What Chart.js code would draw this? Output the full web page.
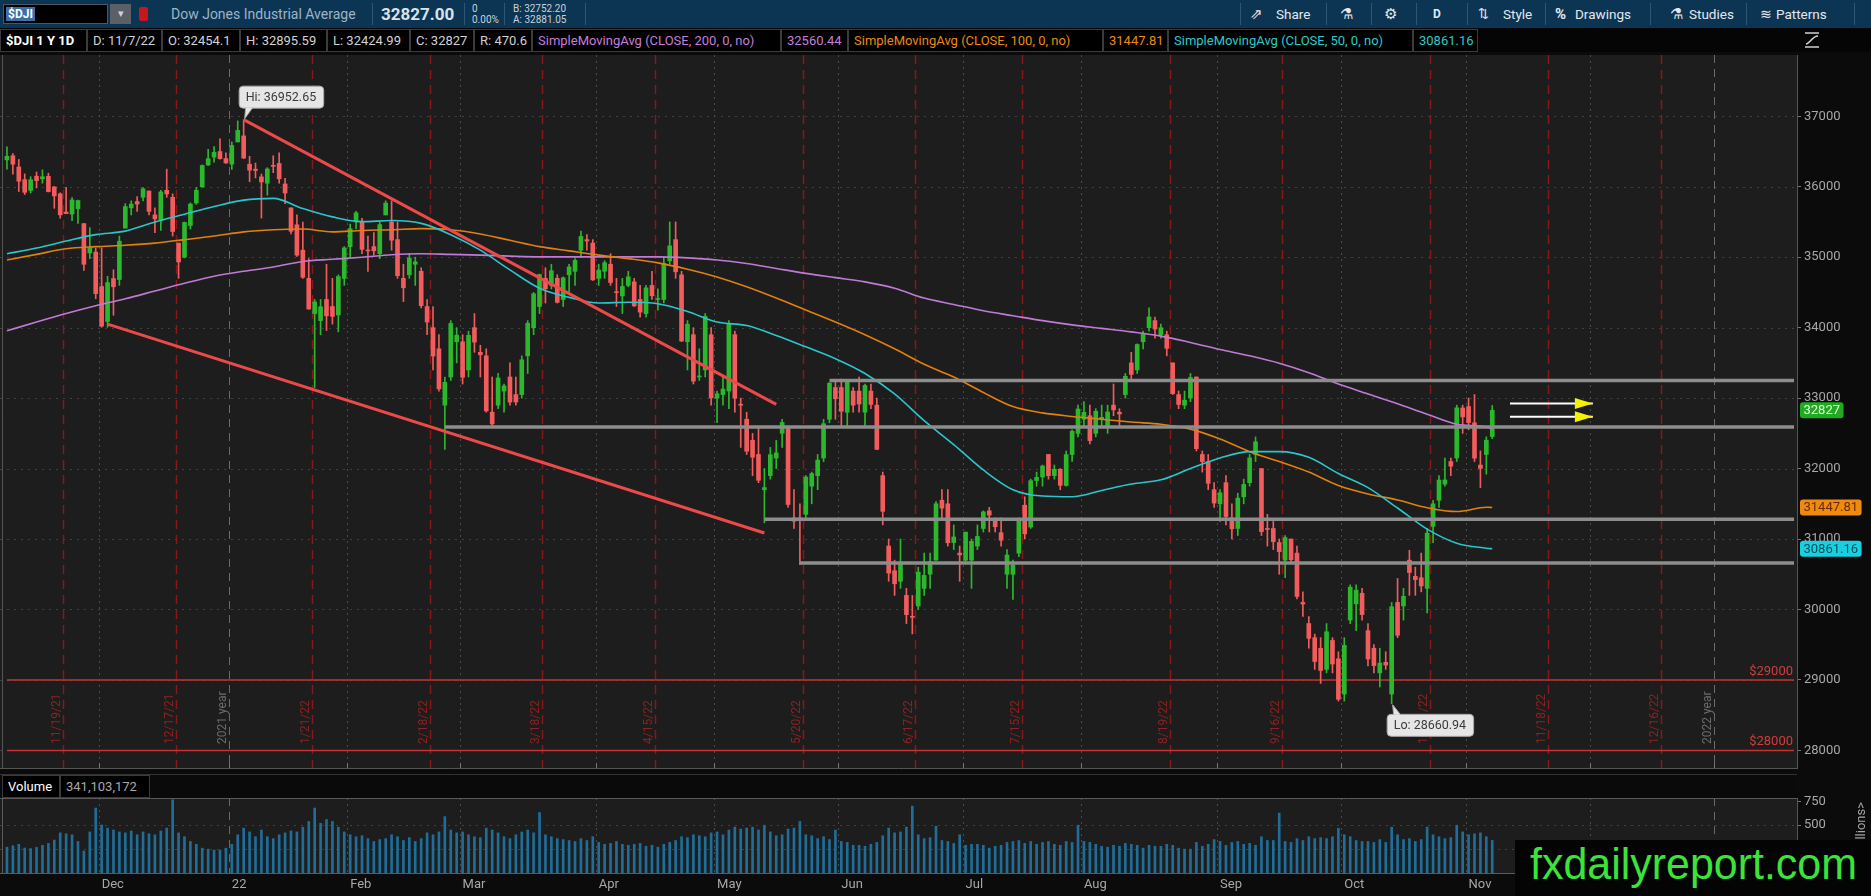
<!DOCTYPE html>
<html>
<head>
<meta charset="utf-8">
<title>$DJI 1 Y 1D</title>
<script src="https://cdn.jsdelivr.net/npm/chart.js@4.4.1/dist/chart.umd.min.js"></script>
<style>
  html, body { margin: 0; padding: 0; background: #0b0b0b; }
  body { width: 1871px; height: 896px; position: relative; overflow: hidden; font-family: Roboto, 'Open Sans', sans-serif; }
  #toolbar { position: absolute; left: 0; top: 0; width: 1871px; height: 28px; background: #0c3453; z-index: 3; }
  #toolbar span, #toolbar div { position: absolute; white-space: nowrap; }
  .tbt { top: 0; line-height: 28px; font-size: 13.5px; color: #e2e9ee; }
  .tsep { top: 3px; width: 1px; height: 22px; background: #2c5674; }
  #hdr { position: absolute; left: 0; top: 28px; width: 1871px; height: 24px; background: #050505; z-index: 3; }
  .hb { position: absolute; top: 1px; height: 23px; line-height: 21px; border: 1px solid #3b3b3b; background: #000; color: #d2d2d2; font-size: 13px; white-space: nowrap; padding-left: 5px; box-sizing: border-box; overflow: hidden; }
  #priceBox { position: absolute; left: 0; top: 52px; width: 1871px; height: 720px; z-index: 1; }
  #volHdr { position: absolute; left: 0; top: 774px; width: 1797px; height: 24px; background: #0a0a0a; border-top: 1px solid #333; box-sizing: border-box; z-index: 3; }
  #volBox { position: absolute; left: 0; top: 790px; width: 1871px; height: 106px; z-index: 2; }
  #wm { position: absolute; left: 1515px; top: 840px; width: 356px; height: 56px; background: #040404; z-index: 5; overflow: hidden; }
  #wmText { position: absolute; left: 15px; top: -4px; font-family: 'Liberation Sans Narrow', 'Liberation Sans', Arial, sans-serif; font-size: 44px; line-height: 56px; color: #3be33b; transform-origin: 0 0; white-space: nowrap; }
</style>
</head>
<body>
<div id="toolbar">
  <div style="left:3px;top:4px;width:105px;height:20px;background:#000;border:1px solid #4d5560;box-sizing:border-box;"></div>
  <span style="left:6px;top:7px;height:14px;line-height:14px;padding:0 2px;background:#3a6fa8;color:#fff;font-size:12px;font-weight:bold;">$DJI</span>
  <div style="left:110px;top:4px;width:21px;height:20px;background:#5b6066;color:#cfd3d6;font-size:11px;line-height:20px;text-align:center;">&#9662;</div>
  <div style="left:139px;top:7px;width:9px;height:14px;background:#c8161d;border-radius:2px;"></div>
  <span class="tbt" style="left:171px;color:#9db5c7;font-size:14px;">Dow Jones Industrial Average</span>
  <div class="tsep" style="left:372px"></div>
  <span class="tbt" style="left:381px;font-size:17px;font-weight:bold;color:#d9e3ea;">32827.00</span>
  <div class="tsep" style="left:464px"></div>
  <span style="left:472px;top:3px;font-size:10px;line-height:11px;color:#c9d3da;">0</span>
  <span style="left:472px;top:14px;font-size:10px;line-height:11px;color:#c9d3da;">0.00%</span>
  <div class="tsep" style="left:504px"></div>
  <span style="left:513px;top:3px;font-size:10px;line-height:11px;color:#c9d3da;">B: 32752.20</span>
  <span style="left:513px;top:14px;font-size:10px;line-height:11px;color:#c9d3da;">A: 32881.05</span>
  <div class="tsep" style="left:585px"></div>

  <div class="tsep" style="left:1240px"></div>
  <span class="tbt" style="left:1250px;font-size:15px;">&#8663;</span>
  <span class="tbt" style="left:1276px">Share</span>
  <div class="tsep" style="left:1326px"></div>
  <span class="tbt" style="left:1340px;font-size:15px;">&#9879;</span>
  <div class="tsep" style="left:1371px"></div>
  <span class="tbt" style="left:1384px;font-size:15px;">&#9881;</span>
  <div class="tsep" style="left:1416px"></div>
  <span class="tbt" style="left:1433px;font-weight:bold;font-size:12px;">D</span>
  <div class="tsep" style="left:1467px"></div>
  <span class="tbt" style="left:1478px;font-size:13px;">&#8645;</span>
  <span class="tbt" style="left:1503px">Style</span>
  <div class="tsep" style="left:1545px"></div>
  <span class="tbt" style="left:1555px;font-weight:bold;font-size:15px;">%</span>
  <span class="tbt" style="left:1575px">Drawings</span>
  <div class="tsep" style="left:1650px"></div>
  <span class="tbt" style="left:1670px;font-size:15px;">&#9879;</span>
  <span class="tbt" style="left:1689px">Studies</span>
  <div class="tsep" style="left:1746px"></div>
  <span class="tbt" style="left:1760px;font-size:14px;">&#8779;</span>
  <span class="tbt" style="left:1776px">Patterns</span>
  <div class="tsep" style="left:1854px"></div>
</div>
<div id="hdr">
  <svg style="position:absolute;left:1803px;top:3px" width="18" height="18" viewBox="0 0 18 18">
    <path d="M2 2H16M2 16H16M3 13C7 13 9 5 15 5" stroke="#d0d0d0" fill="none" stroke-width="1.5"/>
  </svg>
</div>
<div id="priceBox"><canvas id="priceCanvas"></canvas></div>
<div id="volHdr">
  <div class="hb" style="left:2px;top:0;width:58px;color:#fff;">Volume</div>
  <div class="hb" id="volLast" style="left:60px;top:0;width:90px;color:#a8a8a8;"></div>
</div>
<div id="volBox"><canvas id="volCanvas"></canvas></div>
<div id="wm"><span id="wmText">fxdailyreport.com</span></div>

<script>
// ---- calendar ----
const firstDay = '2021-11-08';
const lastDay = '2023-01-23';
const marketHolidays = ['2021-11-25', '2021-12-24', '2022-01-17', '2022-02-21', '2022-04-15', '2022-05-30',
  '2022-06-20', '2022-07-04', '2022-09-05', '2022-11-24', '2022-12-26', '2023-01-02', '2023-01-16'];
const expiryDates = ['2021-11-19', '2021-12-17', '2022-01-21', '2022-02-18', '2022-03-18', '2022-04-15', '2022-05-20',
  '2022-06-17', '2022-07-15', '2022-08-19', '2022-09-16', '2022-10-21', '2022-11-18', '2022-12-16'];
const yearEnds = ['2021-12-31', '2022-12-30'];
const yearLabels = ['2021 year', '2022 year'];
const monthNames = ['22', 'Feb', 'Mar', 'Apr', 'May', 'Jun', 'Jul', 'Aug', 'Sep', 'Oct', 'Nov', 'Dec'];

// ---- daily candles, $DJI (Nov 8 2021 .. Nov 7 2022) ----
const opens = [
  36381, 36440, 36280, 36101, 35947, 36150, 36113, 36149, 35998, 35900, 35641, 35611, 35689, 35477, 35060, 35072,
  34584, 34088, 34697, 34683, 35413, 35700, 35790, 35850, 35940, 35600, 35530, 35950, 35850, 35200, 35000, 35450, 35770, 36000, 36310, 36420, 36500, 36400,
  36321, 36636, 36722, 36320, 36249, 36140, 36050, 36300, 36330, 36040, 35700, 35460, 35100, 34700, 34200, 34100, 34400, 34300, 34180, 34700,
  35150, 35500, 35500, 35100, 35150, 35050, 35600, 35500, 35250, 34700, 34750, 34900, 34800, 34300, 34000, 33700, 32900, 33300, 33800,
  33800, 33400, 34000, 33650, 33600, 32800, 32900, 33100, 33300, 33050, 33050, 33600, 34000, 34300, 34700, 34600, 34700, 34400, 34750, 34800, 35100, 35250, 35200,
  34700, 34800, 34900, 34500, 34450, 34600, 34650, 34400, 34200, 34600, 34400, 34400, 34950, 35250, 34750, 33800, 33900, 33300, 33400, 33900,
  33000, 33050, 33100, 33900, 32900, 32700, 32400, 32200, 31700, 31900, 32150, 32500, 32600, 31300, 31300, 31350, 31750, 31900, 32150, 32700, 33150,
  33150, 32800, 33100, 33100, 32800, 33100, 32900, 31900, 30900, 30550, 30400, 30200, 29900, 30050, 30300, 30500, 30700, 31550, 31500, 30950, 30800,
  30700, 30700, 30900, 31150, 31400, 31280, 31090, 30500, 30500, 30800, 31480, 31170, 31830, 31880, 32200, 31900, 31990, 31760, 32200, 32500,
  32700, 32750, 32500, 32700, 32600, 32900, 32800, 33050, 33500, 33400, 33800, 34000, 34100, 33900, 33900, 33500, 33050, 32900, 33000, 33300, 32200, 32100, 31700,
  31500, 31800, 31300, 31150, 31600, 31800, 32200, 32000, 31150, 31150, 30950, 30700, 31000, 30800, 30100, 29800, 29600, 29450, 29150, 29560, 29300,
  28800, 29850, 30080, 30230, 29700, 29450, 29100, 29250, 28800, 30100, 30050, 30700, 30470, 30450, 30300, 31180, 31550, 31780, 32100, 32150, 32860,
  32880, 32650, 32050, 32200, 32454.1
];
const highs = [
  36565, 36471, 36387, 36183, 36143, 36209, 36240, 36193, 36003, 35914, 35991, 35846, 35811, 35477, 35420, 35129,
  35132, 34728, 34822, 35300, 35760, 35800, 35860, 35987, 35940, 35700, 35950, 36250, 35900, 35200, 35500, 35770, 35990, 36310, 36530, 36570, 36680, 36480,
  36636, 36934, 36952.65, 36432, 36336, 36180, 36270, 36440, 36480, 36120, 35700, 35600, 35500, 34980, 34400, 34400, 34900, 34700, 34750, 35150,
  35470, 35650, 35550, 35300, 35350, 35500, 35800, 35800, 35500, 34900, 35050, 35000, 34850, 34400, 34300, 33900, 33300, 34100, 34000,
  33900, 33950, 34200, 33750, 33700, 33300, 33350, 33200, 33500, 33300, 33600, 34100, 34500, 34760, 34850, 34900, 34750, 34720, 34900, 34980, 35370, 35320, 35250,
  34900, 34950, 35050, 34700, 34700, 34800, 34700, 34600, 34600, 34800, 34550, 35000, 35500, 35500, 34800, 34100, 34000, 33700, 34200, 34000,
  33100, 33300, 34100, 33950, 33000, 32800, 32500, 32600, 32000, 32300, 32400, 32700, 32600, 31700, 31500, 31900, 31950, 32200, 32700, 33220, 33250,
  33270, 33250, 33150, 33300, 33200, 33200, 33000, 31950, 31000, 30700, 31000, 30300, 30200, 30600, 30800, 30800, 31530, 31700, 31700, 31200, 30900,
  31100, 31000, 31200, 31400, 31450, 31300, 31300, 30850, 30700, 31300, 31600, 31850, 31950, 32050, 32200, 32050, 32000, 32250, 32550, 32900,
  32950, 32900, 32850, 32900, 32900, 33200, 32850, 33350, 33650, 33770, 33950, 34281, 34150, 34050, 33950, 33500, 33100, 33100, 33350, 33300, 32250, 32200, 31800,
  31700, 31900, 31500, 31650, 31850, 32200, 32450, 32000, 31350, 31250, 31000, 31050, 31000, 30900, 30250, 29900, 29650, 29600, 29800, 29600, 29400,
  29600, 30350, 30350, 30300, 29800, 29500, 29450, 29400, 30100, 30440, 30300, 30840, 30600, 30800, 31150, 31550, 31900, 32150, 32150, 32900, 32900,
  33000, 33050, 32250, 32450, 32895.59
];
const lows = [
  36249, 36180, 35932, 35890, 35911, 35984, 36050, 35925, 35694, 35553, 35619, 35517, 35478, 34814, 34979, 34411,
  34006, 34006, 34176, 34600, 35413, 35600, 35650, 35800, 35600, 35350, 35380, 35850, 35300, 34700, 34990, 35400, 35750, 35990, 36300, 36350, 36390, 36330,
  36246, 36636, 36400, 36071, 36125, 35555, 35880, 36200, 36050, 35760, 35330, 35010, 34700, 34260, 33150, 33900, 33960, 34050, 33940, 34600,
  35000, 35400, 35050, 34800, 35030, 34980, 35600, 35100, 34700, 34370, 34700, 34600, 34280, 33900, 33400, 33100, 32272, 33250, 33500,
  33200, 33300, 33650, 33300, 32800, 32600, 32850, 32800, 32900, 32900, 33000, 33350, 33900, 34200, 34350, 34550, 34350, 34300, 34500, 34600, 35000, 35100, 34670,
  34600, 34700, 34600, 34300, 34200, 34580, 34300, 34150, 34150, 34400, 34250, 34350, 34900, 34700, 33800, 33400, 33200, 33250, 33300, 32900,
  32650, 32900, 32850, 32800, 32300, 32200, 31900, 31800, 31230, 31850, 32000, 32300, 31450, 31150, 30636, 31300, 31500, 31700, 32100, 32650, 32700,
  32600, 32600, 32800, 32800, 32600, 32850, 32270, 31200, 30400, 30200, 30300, 29800, 29653, 30000, 30200, 30300, 30700, 31300, 30900, 30850, 30400,
  30650, 30300, 30850, 31100, 31100, 31100, 30900, 30300, 30143, 30750, 31000, 31150, 31750, 31750, 31850, 31850, 31700, 31750, 32100, 32450,
  32600, 32350, 32450, 32600, 32500, 32750, 32600, 33000, 33250, 33350, 33700, 33950, 33850, 33850, 33600, 33050, 32850, 32850, 32950, 32250, 31950, 31700, 31450,
  31250, 31200, 31000, 31050, 31500, 31750, 32100, 31050, 30900, 30850, 30500, 30450, 30650, 30150, 29900, 29450, 29150, 28950, 29100, 29100, 28700,
  28700, 29800, 29700, 29850, 29200, 29100, 28900, 29150, 28660.94, 29600, 29850, 30200, 30200, 30250, 29950, 30950, 31450, 31750, 31900, 32100, 32500,
  32550, 32100, 31730, 31920, 32424.99
];
const closes = [
  36432, 36320, 36079, 35921, 36100, 36087, 36142, 35931, 35870, 35601, 35619, 35813, 35804, 34899, 35135, 34483,
  34022, 34640, 34580, 35227, 35719, 35754, 35754, 35971, 35650, 35544, 35927, 35898, 35365, 34932, 35493, 35754, 35950, 36302, 36398, 36488, 36398, 36338,
  36585, 36800, 36407, 36236, 36231, 36068, 36252, 36290, 36113, 35911, 35368, 35029, 34715, 34265, 34365, 34297, 34168, 34160, 34725, 35132,
  35405, 35629, 35111, 35089, 35091, 35463, 35768, 35241, 34738, 34566, 34988, 34934, 34312, 34079, 33597, 33131, 33224, 34059, 33893,
  33295, 33891, 33795, 33615, 32818, 32633, 33286, 33174, 32944, 32945, 33544, 34063, 34481, 34754, 34553, 34808, 34359, 34708, 34862, 34955, 35294, 35229, 34678,
  34818, 34922, 34641, 34497, 34584, 34721, 34309, 34221, 34565, 34452, 34412, 34912, 35161, 34793, 33811, 34049, 33241, 33302, 34160, 33002,
  33062, 33129, 34061, 32998, 32899, 32246, 32161, 31834, 31730, 32197, 32223, 32655, 31490, 31253, 31262, 31880, 31929, 32120, 32637, 33213, 32990,
  32813, 33248, 32900, 32916, 33180, 32910, 32273, 31393, 30517, 30365, 30669, 29927, 29889, 30530, 30484, 30677, 31501, 31438, 30947, 31029, 30775,
  31097, 30968, 31037, 31385, 31338, 31174, 30982, 30773, 30630, 31289, 31073, 31828, 31875, 32036, 31899, 31990, 31762, 32198, 32530, 32845,
  32798, 32397, 32813, 32727, 32803, 32833, 32775, 33310, 33337, 33761, 33913, 34152, 33981, 33999, 33707, 33064, 32910, 32970, 33292, 32283, 32099, 31791, 31510,
  31656, 31319, 31146, 31581, 31775, 32152, 32381, 31105, 31135, 30962, 30822, 31020, 30707, 30184, 30077, 29590, 29261, 29135, 29684, 29226, 28726,
  29490, 30317, 30274, 29927, 29297, 29203, 29240, 29211, 30039, 29635, 30186, 30524, 30424, 30334, 31083, 31500, 31837, 31839, 32034, 32862, 32733,
  32653, 32148, 32002, 32403, 32827
];
// volume, millions
const volumes = [
  270, 285, 300, 262, 255, 268, 290, 310, 345, 420, 410, 400, 330, 230, 430, 680,
  503, 470, 450, 430, 420, 440, 400, 430, 410, 400, 440, 470, 767, 420, 380, 330, 300, 260, 250, 240, 240, 260,
  300, 400, 470, 430, 380, 450, 380, 360, 400, 420, 440, 430, 480, 540, 680, 520, 560, 540, 480, 430,
  400, 380, 390, 360, 330, 350, 360, 400, 380, 340, 370, 330, 360, 420, 400, 430, 590, 450, 420,
  430, 400, 380, 370, 470, 450, 420, 380, 360, 400, 430, 450, 420, 633, 400, 380, 360, 350, 340, 330, 360, 340, 380,
  320, 300, 310, 330, 300, 290, 300, 310, 280, 290, 270, 300, 320, 340, 380, 370, 400, 390, 380, 420,
  430, 400, 450, 480, 460, 470, 480, 450, 500, 430, 390, 400, 460, 470, 540, 400, 390, 360, 380, 350, 450,
  330, 320, 290, 290, 280, 300, 320, 390, 470, 420, 430, 480, 700, 400, 360, 370, 490, 340, 330, 310, 400,
  290, 300, 300, 290, 260, 280, 290, 320, 330, 340, 310, 330, 300, 320, 330, 300, 290, 330, 320, 500,
  330, 320, 300, 280, 270, 290, 280, 310, 300, 290, 260, 290, 280, 280, 300, 290, 260, 250, 250, 320, 280, 300, 350,
  330, 290, 320, 330, 300, 310, 290, 380, 340, 340, 627, 330, 320, 360, 340, 380, 360, 370, 360, 380, 468,
  400, 380, 340, 330, 330, 320, 350, 320, 480, 400, 350, 360, 330, 350, 480, 400, 380, 360, 370, 500, 430,
  400, 410, 420, 380, 341.103172
];

// ---- moving averages, read every 5th session (last point = last session) ----
const smaStep = 5;
const sma200 = [33955, 34080, 34200, 34310, 34410, 34520, 34630, 34730, 34800, 34860, 34940, 34970, 35000, 35035, 35050, 35040,
  35030, 35015, 35005, 35005, 35005, 35005, 35005, 34990, 34960, 34910, 34840, 34770, 34710, 34650, 34560, 34420, 34330, 34240,
  34170, 34100, 34040, 33990, 33940, 33880, 33790, 33690, 33600, 33495, 33360, 33200, 33060, 32920, 32770, 32630, 32590, 32560.44];
const sma100 = [34960, 35040, 35120, 35150, 35170, 35200, 35250, 35300, 35360, 35390, 35400, 35360, 35380, 35390, 35405, 35390,
  35330, 35240, 35150, 35090, 35030, 34980, 34920, 34830, 34720, 34580, 34420, 34250, 34080, 33900, 33700, 33480, 33300, 33080,
  32880, 32790, 32740, 32700, 32660, 32630, 32560, 32420, 32240, 32100, 31950, 31760, 31640, 31555, 31445, 31390, 31450, 31447.81];
const sma50 = [35050, 35130, 35230, 35320, 35370, 35500, 35610, 35720, 35810, 35835, 35690, 35572, 35505, 35520, 35480, 35320,
  35100, 34820, 34560, 34430, 34350, 34360, 34340, 34230, 34080, 34030, 33890, 33728, 33560, 33350, 33060, 32680, 32340, 31980,
  31700, 31610, 31600, 31690, 31780, 31840, 32000, 32150, 32240, 32240, 32160, 31930, 31730, 31440, 31140, 30940, 30870, 30861.16];

// ---- drawings ----
const priceTicks = [28000, 29000, 30000, 31000, 32000, 33000, 34000, 35000, 36000, 37000];
const alertLevels = [29000, 28000];
const grayLevels = [33250, 32590, 31280, 30660];
const grayStarts = ['2022-05-27', '2022-02-24', '2022-05-12', '2022-05-20'];
const upperChannel = [['2022-01-05', 36952.65], ['2022-05-16', 32911]];
const lowerChannel = [['2021-12-02', 34050], ['2022-05-12', 31086]];
const arrowLevels = [32925, 32734];
const arrowSpan = ['2022-11-10', '2022-12-01'];

// ---- helpers ----
function tradingDays(from, to) {
  const out = [];
  const d = new Date(from + 'T12:00:00Z');
  const end = new Date(to + 'T12:00:00Z');
  while (d <= end) {
    const iso = d.toISOString().slice(0, 10);
    const wd = d.getUTCDay();
    if (wd !== 0 && wd !== 6 && !marketHolidays.includes(iso)) out.push(iso);
    d.setUTCDate(d.getUTCDate() + 1);
  }
  return out;
}
const isoDays = tradingDays(firstDay, lastDay);
const shortDate = iso => { const [y, m, d] = iso.split('-'); return `${+m}/${+d}/${y.slice(2)}`; };
const dayLabels = isoDays.map(shortDate);
const idxOn = iso => { let k = 0; isoDays.forEach((d, i) => { if (d <= iso) k = i; }); return k; };
const labelOn = iso => dayLabels[idxOn(iso)];
const lastLabel = dayLabels[dayLabels.length - 1];
const last = closes.length - 1;

const monthStarts = [];
isoDays.forEach((d, i) => { if (i > 0 && d.slice(5, 7) !== isoDays[i - 1].slice(5, 7)) monthStarts.push(i); });
const monthTickText = {};
monthStarts.forEach(i => { monthTickText[i] = monthNames[(+isoDays[i].slice(5, 7) + 11) % 12]; });

const upColor = '#2cb82c';
const downColor = '#f25c5c';
const candleColors = closes.map((c, i) => (c >= opens[i] ? upColor : downColor));
const bodies = closes.map((c, i) => [opens[i], c]);
const wicks = closes.map((c, i) => [lows[i], highs[i]]);

function smaSeries(values) {
  const data = dayLabels.map(() => null);
  values.forEach((v, k) => { data[Math.min(k * smaStep, last)] = v; });
  return data;
}
const seg = (a, b) => [{ x: labelOn(a[0]), y: a[1] }, { x: labelOn(b[0]), y: b[1] }];
const flat = (startIso, v, endIso) => [{ x: labelOn(startIso), y: v }, { x: endIso ? labelOn(endIso) : lastLabel, y: v }];

// ---- header texts from data ----
const fmt2 = v => v.toFixed(2);
const hdrItems = [
  ['$DJI 1 Y 1D', 0, 87, '#ffffff', true],
  ['D: ' + shortDate(isoDays[last]), 87, 75, '#d2d2d2'],
  ['O: ' + opens[last], 162, 78, '#d2d2d2'],
  ['H: ' + highs[last], 240, 87, '#d2d2d2'],
  ['L: ' + lows[last], 327, 83, '#d2d2d2'],
  ['C: ' + closes[last], 410, 64, '#d2d2d2'],
  ['R: ' + (highs[last] - lows[last]).toFixed(1), 474, 58, '#d2d2d2'],
  ['SimpleMovingAvg (CLOSE, 200, 0, no)', 532, 249, '#c57ed8'],
  [fmt2(sma200[sma200.length - 1]), 781, 67, '#c57ed8'],
  ['SimpleMovingAvg (CLOSE, 100, 0, no)', 848, 255, '#ea8a12'],
  [fmt2(sma100[sma100.length - 1]), 1103, 65, '#ea8a12'],
  ['SimpleMovingAvg (CLOSE, 50, 0, no)', 1168, 245, '#2ccaca'],
  [fmt2(sma50[sma50.length - 1]), 1413, 65, '#2ccaca']
];
const hdr = document.getElementById('hdr');
hdrItems.forEach(([t, l, w, c, b]) => {
  const el = document.createElement('div');
  el.className = 'hb';
  el.textContent = t;
  el.style.left = l + 'px';
  el.style.width = w + 'px';
  el.style.color = c;
  if (b) el.style.fontWeight = 'bold';
  hdr.appendChild(el);
});
document.getElementById('volLast').textContent = Math.round(volumes[last] * 1e6).toLocaleString('en-US');

// ---- chart ----
Chart.defaults.font.family = 'Roboto, "Open Sans", sans-serif';
Chart.defaults.animation = false;

function drawRound(ctx, x, y, w, h, r) {
  ctx.beginPath();
  ctx.moveTo(x + r, y);
  ctx.arcTo(x + w, y, x + w, y + h, r);
  ctx.arcTo(x + w, y + h, x, y + h, r);
  ctx.arcTo(x, y + h, x, y, r);
  ctx.arcTo(x, y, x + w, y, r);
  ctx.closePath();
}
function vline(ctx, px, y1, y2) { ctx.beginPath(); ctx.moveTo(px, y1); ctx.lineTo(px, y2); ctx.stroke(); }
function hline(ctx, py, x1, x2) { ctx.beginPath(); ctx.moveTo(x1, py); ctx.lineTo(x2, py); ctx.stroke(); }
const boundary = (xs, i, side) => {
  const w = xs.getPixelForValue(1) - xs.getPixelForValue(0);
  return Math.round(xs.getPixelForValue(i) + side * w / 2) + 0.5;
};
const yearIdx = yearEnds.map(idxOn);
const janStarts = monthStarts.filter(i => isoDays[i].slice(5, 7) === '01');

function drawVerticals(ctx, a, xs) {
  ctx.lineWidth = 1;
  ctx.strokeStyle = '#4a4a4a';
  ctx.setLineDash([2, 4]);
  monthStarts.filter(i => !janStarts.includes(i)).forEach(i => vline(ctx, boundary(xs, i, -1), a.top, a.bottom));
  ctx.strokeStyle = '#6a6a6a';
  ctx.setLineDash([8, 6]);
  yearIdx.forEach(i => vline(ctx, boundary(xs, i, 1), a.top, a.bottom));
}

const pricePlugin = {
  id: 'priceOverlay',
  beforeDraw(chart) {
    const { ctx, chartArea: a, width } = chart;
    ctx.save();
    ctx.fillStyle = '#0b0b0b';
    ctx.fillRect(0, 0, width, chart.height);
    ctx.fillStyle = '#1d1d1d';
    ctx.fillRect(0, a.top, a.right, a.bottom - a.top);
    ctx.restore();
  },
  beforeDatasetsDraw(chart) {
    const { ctx, chartArea: a, scales: { x, y } } = chart;
    ctx.save();
    ctx.lineWidth = 1;
    ctx.strokeStyle = '#404040';
    ctx.setLineDash([2, 5]);
    priceTicks.forEach(v => hline(ctx, Math.round(y.getPixelForValue(v)) + 0.5, 0, a.right));
    drawVerticals(ctx, a, x);
    // option expiration lines
    ctx.strokeStyle = '#861a1a';
    ctx.lineWidth = 1.5;
    ctx.setLineDash([9, 6]);
    expiryDates.forEach(d => vline(ctx, boundary(x, idxOn(d), 1), a.top, a.bottom));
    ctx.setLineDash([]);
    // small ticks at panel bottom
    ctx.strokeStyle = '#777';
    ctx.lineWidth = 1;
    monthStarts.forEach(i => vline(ctx, boundary(x, i, -1), a.bottom - 5, a.bottom));
    // rotated labels
    ctx.font = '12px Roboto, sans-serif';
    ctx.textAlign = 'left';
    ctx.textBaseline = 'middle';
    const labelAt = (px, text, color) => {
      ctx.save();
      ctx.translate(px - 7, a.bottom - 24);
      ctx.rotate(-Math.PI / 2);
      ctx.fillStyle = color;
      ctx.fillText(text, 0, 0);
      ctx.restore();
    };
    expiryDates.forEach(d => labelAt(boundary(x, idxOn(d), 1), shortDate(d), '#8e2222'));
    yearIdx.forEach((i, k) => labelAt(boundary(x, i, 1), yearLabels[k], '#6c6c6c'));
    // alert labels
    ctx.font = '13px Roboto, sans-serif';
    ctx.textAlign = 'right';
    ctx.textBaseline = 'alphabetic';
    ctx.fillStyle = '#d23c3c';
    alertLevels.forEach(v => ctx.fillText('$' + v, a.right - 4, y.getPixelForValue(v) - 5));
    ctx.restore();
  },
  afterDatasetsDraw(chart) {
    const { ctx, chartArea: a, scales: { x, y } } = chart;
    ctx.save();
    // arrow heads
    ctx.fillStyle = '#f4f200';
    arrowLevels.forEach(v => {
      const tx = x.getPixelForValue(idxOn(arrowSpan[1]));
      const ty = y.getPixelForValue(v);
      ctx.beginPath();
      ctx.moveTo(tx, ty);
      ctx.lineTo(tx - 18, ty - 5.5);
      ctx.lineTo(tx - 18, ty + 5.5);
      ctx.closePath();
      ctx.fill();
    });
    // hi / lo bubbles
    const hiIdx = highs.indexOf(Math.max(...highs));
    const loIdx = lows.indexOf(Math.min(...lows));
    ctx.font = '12.5px Roboto, sans-serif';
    ctx.textBaseline = 'middle';
    ctx.textAlign = 'left';
    const bubble = (px, py, text, above) => {
      const w = ctx.measureText(text).width + 14;
      const h = 22;
      const bx = px - 5;
      const by = above ? py - 12 - h : py + 10;
      ctx.fillStyle = '#e6e6e6';
      ctx.strokeStyle = '#a9a9a9';
      ctx.lineWidth = 1;
      drawRound(ctx, bx + 0.5, by + 0.5, w, h, 4);
      ctx.fill();
      ctx.stroke();
      ctx.beginPath();
      const edge = above ? by + h : by + 1;
      ctx.moveTo(bx + 7, edge);
      ctx.lineTo(px + 1, above ? py - 1 : py + 1);
      ctx.lineTo(bx + 14, edge);
      ctx.closePath();
      ctx.fill();
      ctx.beginPath();
      ctx.moveTo(bx + 7, edge);
      ctx.lineTo(px + 1, above ? py - 1 : py + 1);
      ctx.lineTo(bx + 14, edge);
      ctx.stroke();
      ctx.fillStyle = '#3b3b3b';
      ctx.fillText(text, bx + 7, by + h / 2 + 1);
    };
    bubble(x.getPixelForValue(hiIdx), y.getPixelForValue(highs[hiIdx]), 'Hi: ' + highs[hiIdx].toFixed(2), true);
    bubble(x.getPixelForValue(loIdx), y.getPixelForValue(lows[loIdx]), 'Lo: ' + lows[loIdx].toFixed(2), false);
    // panel border
    ctx.strokeStyle = '#555';
    hline(ctx, Math.round(a.bottom) + 0.5, 0, a.right);
    vline(ctx, 2.5, a.top, a.bottom);
    ctx.restore();
  },
  afterDraw(chart) {
    const { ctx, chartArea: a, scales: { y } } = chart;
    ctx.save();
    ctx.font = '13px Roboto, sans-serif';
    ctx.textBaseline = 'middle';
    ctx.textAlign = 'left';
    const tags = [
      [closes[last], String(closes[last]), '#1faa1f', '#e4ffe4'],
      [sma100[sma100.length - 1], fmt2(sma100[sma100.length - 1]), '#f08a0c', '#6a2c00'],
      [sma50[sma50.length - 1], fmt2(sma50[sma50.length - 1]), '#19cfe0', '#00525c']
    ];
    tags.forEach(([v, t, bg, fg]) => {
      const py = y.getPixelForValue(v);
      const w = ctx.measureText(t).width + 7;
      ctx.fillStyle = bg;
      drawRound(ctx, a.right + 3, py - 8, w, 16, 3);
      ctx.fill();
      ctx.fillStyle = fg;
      ctx.fillText(t, a.right + 6.5, py + 0.5);
    });
    ctx.restore();
  }
};

const lineDefaults = { type: 'line', pointRadius: 0, fill: false, spanGaps: true };
const priceChart = new Chart(document.getElementById('priceCanvas'), {
  type: 'bar',
  data: {
    labels: dayLabels,
    datasets: [
      ...arrowLevels.map(v => ({ ...lineDefaults, data: flat(arrowSpan[0], v, arrowSpan[1]), borderColor: '#ffffff', borderWidth: 2 })),
      ...grayLevels.map((v, k) => ({ ...lineDefaults, data: flat(grayStarts[k], v), borderColor: '#8d8d8d', borderWidth: 3.5 })),
      { ...lineDefaults, data: seg(...upperChannel), borderColor: '#ec4a4a', borderWidth: 3 },
      { ...lineDefaults, data: seg(...lowerChannel), borderColor: '#ec4a4a', borderWidth: 3 },
      { ...lineDefaults, data: smaSeries(sma50), borderColor: '#2ac6cc', borderWidth: 1.6, cubicInterpolationMode: 'monotone' },
      { ...lineDefaults, data: smaSeries(sma100), borderColor: '#e0800e', borderWidth: 1.6, cubicInterpolationMode: 'monotone' },
      { ...lineDefaults, data: smaSeries(sma200), borderColor: '#c07ad6', borderWidth: 1.6, cubicInterpolationMode: 'monotone' },
      { type: 'bar', data: bodies, backgroundColor: candleColors, barThickness: 4, grouped: false, minBarLength: 1 },
      { type: 'bar', data: wicks, backgroundColor: candleColors, barThickness: 1, grouped: false },
      ...alertLevels.map(v => ({ ...lineDefaults, data: flat(isoDays[0], v), borderColor: '#c83232', borderWidth: 1.5 }))
    ]
  },
  options: {
    responsive: true,
    maintainAspectRatio: false,
    layout: { padding: { left: 4, top: 3, bottom: 4, right: 0 } },
    plugins: { legend: { display: false }, tooltip: { enabled: false } },
    scales: {
      x: { display: false, offset: true },
      y: {
        position: 'right',
        min: 27750,
        max: 37870,
        afterBuildTicks: s => { s.ticks = priceTicks.map(v => ({ value: v })); },
        afterFit: s => { s.width = 74; s.paddingTop = 0; s.paddingBottom = 0; },
        grid: { drawOnChartArea: false, drawTicks: true, tickLength: 4, color: '#777' },
        border: { display: true, color: '#555' },
        ticks: { color: '#a7a7a7', font: { size: 13 }, padding: 3, callback: v => String(v) }
      }
    }
  },
  plugins: [pricePlugin]
});

// ---- volume ----
const volPlugin = {
  id: 'volOverlay',
  beforeDraw(chart) {
    const { ctx, chartArea: a, width, height, scales: { x, y } } = chart;
    ctx.save();
    ctx.fillStyle = '#0b0b0b';
    ctx.fillRect(0, a.top, width, height - a.top);
    ctx.fillStyle = '#1d1d1d';
    ctx.fillRect(0, a.top, a.right, a.bottom - a.top);
    ctx.lineWidth = 1;
    ctx.strokeStyle = '#404040';
    ctx.setLineDash([2, 5]);
    [250, 500].forEach(v => hline(ctx, Math.round(y.getPixelForValue(v)) + 0.5, 0, a.right));
    drawVerticals(ctx, a, x);
    ctx.restore();
  },
  afterDraw(chart) {
    const { ctx, chartArea: a, width } = chart;
    ctx.save();
    ctx.strokeStyle = '#5a5a5a';
    ctx.lineWidth = 1;
    hline(ctx, Math.round(a.top) + 0.5, 0, a.right);
    hline(ctx, Math.round(a.bottom) + 0.5, 0, a.right);
    vline(ctx, 2.5, a.top, a.bottom);
    ctx.translate(width - 9, a.top + 4);
    ctx.rotate(-Math.PI / 2);
    ctx.font = '13px Roboto, sans-serif';
    ctx.fillStyle = '#a7a7a7';
    ctx.textAlign = 'right';
    ctx.textBaseline = 'middle';
    ctx.fillText('<Millions>', 0, 0);
    ctx.restore();
  }
};

const volChart = new Chart(document.getElementById('volCanvas'), {
  type: 'bar',
  data: {
    labels: dayLabels,
    datasets: [{ data: volumes, backgroundColor: '#1e6e99', barThickness: 2 }]
  },
  options: {
    responsive: true,
    maintainAspectRatio: false,
    layout: { padding: { left: 4, top: 8, bottom: 0, right: 0 } },
    plugins: { legend: { display: false }, tooltip: { enabled: false } },
    scales: {
      x: {
        offset: true,
        grid: { display: false, drawTicks: false },
        border: { display: false },
        afterFit: s => { s.height = 23; s.paddingLeft = 0; s.paddingRight = 0; },
        ticks: {
          autoSkip: false, maxRotation: 0, minRotation: 0, align: 'start', padding: 4,
          color: '#a7a7a7', font: { size: 13 },
          callback: (v, i) => monthTickText[i] || ''
        }
      },
      y: {
        position: 'right',
        min: 0,
        max: 785,
        afterBuildTicks: s => { s.ticks = [250, 500, 750].map(v => ({ value: v })); },
        afterFit: s => { s.width = 74; s.paddingTop = 0; s.paddingBottom = 0; },
        grid: { drawOnChartArea: false, drawTicks: true, tickLength: 4, color: '#777' },
        border: { display: true, color: '#555' },
        ticks: { color: '#a7a7a7', font: { size: 13 }, padding: 3, callback: v => (v >= 500 ? String(v) : '') }
      }
    }
  },
  plugins: [volPlugin]
});

// fit watermark text to its box
const wmText = document.getElementById('wmText');
wmText.style.transform = `scaleX(${327 / wmText.scrollWidth})`;
</script>
</body>
</html>
